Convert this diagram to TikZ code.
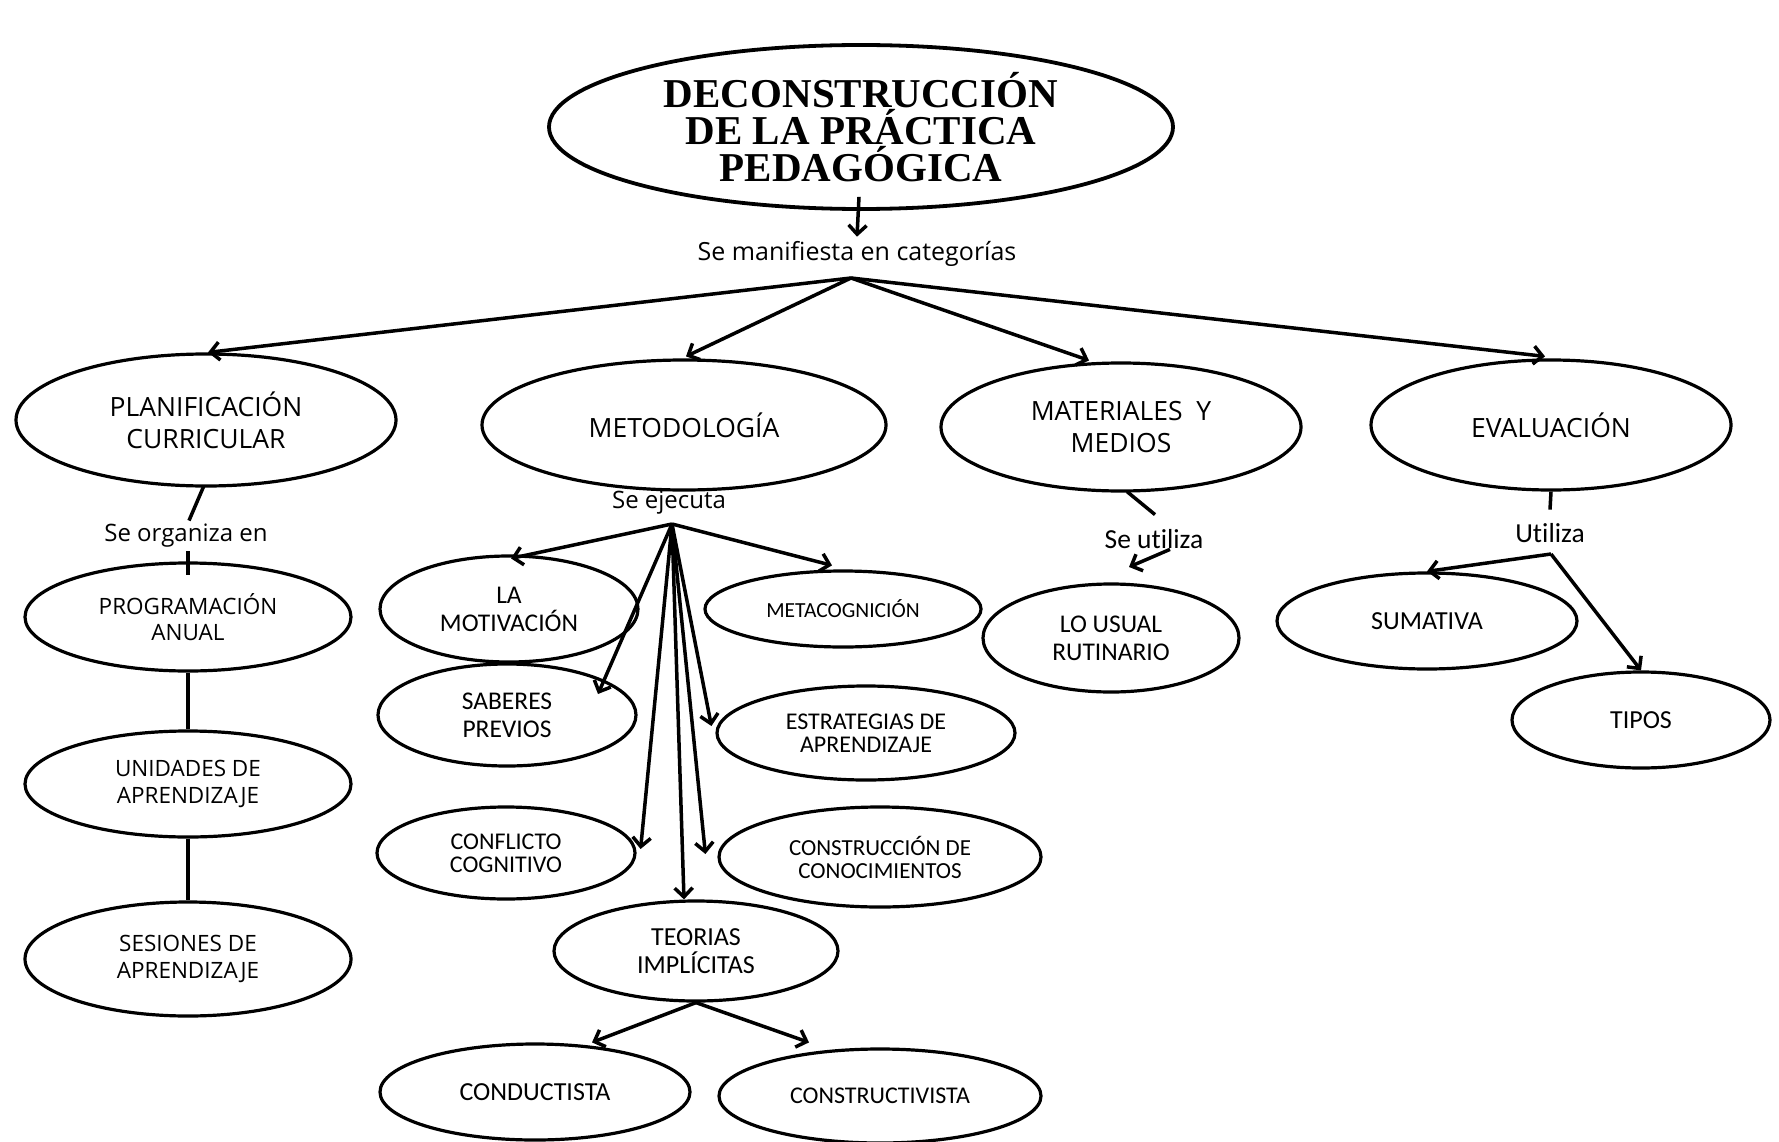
\documentclass[tikz,border=0pt]{standalone}
\usepackage{fontspec}
\usetikzlibrary{shapes.geometric,arrows.meta,calc}
\newfontfamily\osans{Open Sans}
\newfontfamily\calib[Ligatures=NoCommon]{Carlito}
\newfontfamily\tserif{Liberation Serif}
\begin{document}
\begin{tikzpicture}[x=1pt,y=-1pt,
  line width=3.5pt,
  ell/.style={draw, ellipse, inner sep=0pt, align=center, line width=3.2pt},
  big/.style={ell, font=\osans\fontsize{26.5}{32}\selectfont},
  mid/.style={ell, font=\osans\fontsize{22.5}{27}\selectfont},
  cal/.style={ell, font=\calib\fontsize{25.5}{28}\selectfont},
  cals/.style={ell, font=\calib\fontsize{24}{23}\selectfont},
  lab/.style={inner sep=1pt, font=\osans\fontsize{24}{26}\selectfont},
  labc/.style={inner sep=1pt, font=\calib\fontsize{27.5}{28}\selectfont},
  arr/.style={-{Straight Barb[length=9pt,width=18pt]}},
  ln/.style={line cap=butt}
]
\useasboundingbox (0,0) rectangle (1779,1142);
\fill[white] (0,0) rectangle (1779,1142);

% title
\node[ell, line width=3.8pt, minimum width=624pt, minimum height=164pt] (title) at (861,127) {};
\node[font=\tserif\bfseries\fontsize{41}{37}\selectfont, align=center] (ttext) at (861,127)
  {DECONSTRUCCIÓN\\DE LA PRÁCTICA\\PEDAGÓGICA};
\node[lab, font=\osans\fontsize{25}{26}\selectfont] (man) at (857,254) {Se manifiesta en categorías};
\coordinate (hub) at (851,278);
\draw[arr] ($(title.south)+(-2,-14)$) -- ($(man.north)+(0,-2)$);

% level 1
\node[big, minimum width=380pt, minimum height=132pt] (pc) at (206,420) {PLANIFICACIÓN\\CURRICULAR};
\node[big, minimum width=404pt, minimum height=130pt] (met) at (684,425) {METODOLOGÍA};
\node[big, minimum width=360pt, minimum height=128pt] (mm) at (1121,427) {MATERIALES\ \ Y\\MEDIOS};
\node[big, minimum width=360pt, minimum height=130pt] (ev) at (1551,425) {EVALUACIÓN};

\draw[arr] (hub) -- ($(pc.north)+(2,0)$);
\draw[arr] (hub) -- ($(met.north)+(2,-2)$);
\draw[arr] (hub) -- ($(mm.north)+(-32,-1)$);
\draw[arr] (hub) -- ($(ev.north)+(-6,-2)$);

% planificacion branch
\node[lab] (org) at (186,536) {Se organiza en};
\node[mid, minimum width=326pt, minimum height=108pt] (pa) at (188,617) {PROGRAMACIÓN\\[-1pt]ANUAL};
\node[mid, minimum width=326pt, minimum height=106pt] (ua) at (188,784) {UNIDADES DE\\APRENDIZAJE};
\node[mid, minimum width=326pt, minimum height=114pt] (sa) at (188,959) {SESIONES DE\\APRENDIZAJE};
\draw[ln] ($(pc.south)+(-2,-2)$) -- ($(org.north)+(3,-1)$);
\draw[ln] ($(org.south)+(2,1)$) -- ($(pa.north)+(0,14)$);
\draw[ln] (pa.south) -- (ua.north);
\draw[ln] (ua.south) -- (sa.north);

% metodologia branch
\node[lab] (eje) at (669,503) {Se ejecuta};
\coordinate (mhub) at (672,524);
\node[cal, minimum width=258pt, minimum height=106pt] (lm) at (509,609) {LA\\MOTIVACIÓN};
\node[cal, minimum width=258pt, minimum height=102pt] (sp) at (507,715) {SABERES\\PREVIOS};
\node[cals, font=\calib\fontsize{21.5}{23}\selectfont, minimum width=276pt, minimum height=76pt] (mc) at (843,609) {METACOGNICIÓN};
\node[cals, minimum width=298pt, minimum height=94pt] (ea) at (866,733) {ESTRATEGIAS DE\\APRENDIZAJE};
\node[cals, minimum width=258pt, minimum height=92pt] (cc) at (506,853) {CONFLICTO\\COGNITIVO};
\node[cals, font=\calib\fontsize{23}{23}\selectfont, minimum width=322pt, minimum height=100pt] (con) at (880,857) {CONSTRUCCIÓN DE\\CONOCIMIENTOS};
\node[cal, font=\calib\fontsize{26}{28}\selectfont, minimum width=284pt, minimum height=100pt] (ti) at (696,951) {TEORIAS\\IMPLÍCITAS};
\node[cal, font=\calib\fontsize{26}{28}\selectfont, minimum width=310pt, minimum height=96pt] (cd) at (535,1092) {CONDUCTISTA};
\node[cals, minimum width=322pt, minimum height=94pt] (ct) at (880,1096) {CONSTRUCTIVISTA};

\draw[arr] (mhub) -- ($(lm.north)+(2,4)$);
\draw[arr] (mhub) -- ($(sp.center)+(91,-21)$);
\draw[arr] (mhub) -- ($(cc.east)+(4,-4)$);
\draw[arr] (mhub) -- ($(ti.north)+(-12,0)$);
\draw[arr] (mhub) -- ($(con.west)+(-12,-3)$);
\draw[arr] (mhub) -- ($(ea.west)+(-4,-7)$);
\draw[arr] (mhub) -- ($(mc.north)+(-11,-4)$);

\draw[arr] (ti.south) -- ($(cd.north)+(57,0)$);
\draw[arr] (ti.south) -- ($(ct.north)+(-71,-5)$);

% materiales branch
\node[labc] (sut) at (1154,539) {Se utiliza};
\node[cal, minimum width=256pt, minimum height=108pt] (lu) at (1111,638) {LO USUAL\\RUTINARIO};
\coordinate (lutip) at (1129,567);
\draw[ln] ($(mm.south)+(6,-1)$) -- ($(sut.north)+(1,-12)$);
\draw[arr] ($(sut.south)+(16,-2)$) -- (lutip);

% evaluacion branch
\node[labc] (uti) at (1550,533) {Utiliza};
\coordinate (ehub) at (1551,554);
\node[cal, font=\calib\fontsize{26}{28}\selectfont, minimum width=300pt, minimum height=96pt] (sum) at (1427,621) {SUMATIVA};
\node[cal, font=\calib\fontsize{26}{28}\selectfont, minimum width=258pt, minimum height=96pt] (tip) at (1641,720) {TIPOS};
\draw[ln] (ev.south) -- ($(uti.north)+(0,-11)$);
\draw[arr] (ehub) -- (sum.north);
\draw[arr] (ehub) -- (tip.north);
\end{tikzpicture}
\end{document}
